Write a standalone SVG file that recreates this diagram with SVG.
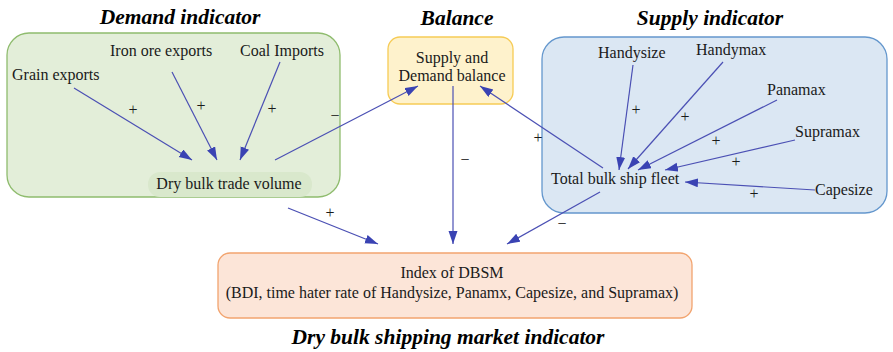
<svg xmlns="http://www.w3.org/2000/svg" width="893" height="352" viewBox="0 0 893 352">
<style>
text{fill:#1a1a1a}
.t{font-size:21.5px;font-weight:bold;font-style:italic;text-anchor:middle;fill:#000}
.l{font-size:16px}
.c{text-anchor:middle}
.s{font-size:16px}
.e{stroke:#4b50b4;stroke-width:1.2;fill:none;marker-end:url(#ah)}
</style>
<defs>
<marker id="ah" markerUnits="userSpaceOnUse" markerWidth="14" markerHeight="10" refX="13" refY="4.5" orient="auto">
<path d="M0,0 L13,4.5 L0,9 z" fill="#3a43b3"/>
</marker>
</defs>
<g font-family="Liberation Serif, DejaVu Serif, serif">
<g id="demand">
<rect x="7" y="33" width="333" height="164" rx="22" fill="#e3eed9" stroke="#8fbc6e" stroke-width="1.3"/>
<text class="t" x="180" y="24">Demand indicator</text>
<text class="l" x="110" y="56">Iron ore exports</text>
<text class="l" x="240" y="56">Coal Imports</text>
<text class="l" x="12" y="80">Grain exports</text>
</g>
<g id="dry-bulk-trade-volume">
<rect x="148" y="172" width="164" height="25" rx="12" fill="#d9e8cc"/>
<text class="l c" x="229" y="189">Dry bulk trade volume</text>
</g>
<g id="balance">
<text class="t" x="457" y="25">Balance</text>
<rect x="388" y="37" width="125" height="67" rx="12" fill="#fef2cc" stroke="#f6cb55" stroke-width="1.3"/>
<text class="l c" x="452" y="63">Supply and</text>
<text class="l c" x="452" y="81">Demand balance</text>
</g>
<g id="supply">
<rect x="542" y="37" width="345" height="176" rx="22" fill="#dbe7f3" stroke="#6497cd" stroke-width="1.3"/>
<text class="t" x="710" y="25">Supply indicator</text>
<text class="l" x="598" y="58">Handysize</text>
<text class="l" x="696" y="55">Handymax</text>
<text class="l" x="767" y="95">Panamax</text>
<text class="l" x="795" y="137">Supramax</text>
<text class="l" x="815" y="195">Capesize</text>
</g>
<g id="total-bulk-ship-fleet">
<text class="l" x="551" y="184">Total bulk ship fleet</text>
</g>
<g id="dbsm">
<rect x="218" y="253" width="474" height="65" rx="12" fill="#fce5d8" stroke="#f2a46f" stroke-width="1.3"/>
<text class="l c" x="452" y="278">Index of DBSM</text>
<text class="l c" x="452" y="298">(BDI, time hater rate of Handysize, Panamx, Capesize, and Supramax)</text>
<text class="t" x="448" y="344">Dry bulk shipping market indicator</text>
</g>
<g id="connectors">
<line class="e" x1="74" y1="88" x2="192" y2="160"/>
<line class="e" x1="172" y1="72" x2="217" y2="160"/>
<line class="e" x1="280" y1="62" x2="240" y2="160"/>
<line class="e" x1="275" y1="160" x2="418" y2="86"/>
<line class="e" x1="453" y1="86" x2="453" y2="244"/>
<line class="e" x1="603" y1="168" x2="480" y2="86"/>
<line class="e" x1="633" y1="65" x2="619" y2="170"/>
<line class="e" x1="723" y1="62" x2="628" y2="169"/>
<line class="e" x1="777" y1="100" x2="638" y2="170"/>
<line class="e" x1="795" y1="140" x2="665" y2="170"/>
<line class="e" x1="815" y1="190" x2="685" y2="182"/>
<line class="e" x1="600" y1="192" x2="507" y2="244"/>
<line class="e" x1="288" y1="208" x2="378" y2="244"/>
<text x="133" y="115" class="c s">+</text>
<text x="201" y="111" class="c s">+</text>
<text x="272" y="114" class="c s">+</text>
<text x="335" y="121" class="c s">−</text>
<text x="465" y="165" class="c s">−</text>
<text x="538" y="143" class="c s">+</text>
<text x="636" y="115" class="c s">+</text>
<text x="685" y="122" class="c s">+</text>
<text x="716" y="146" class="c s">+</text>
<text x="736" y="167" class="c s">+</text>
<text x="754" y="199" class="c s">+</text>
<text x="562" y="229" class="c s">−</text>
<text x="330" y="218" class="c s">+</text>
</g>
</g>
</svg>
